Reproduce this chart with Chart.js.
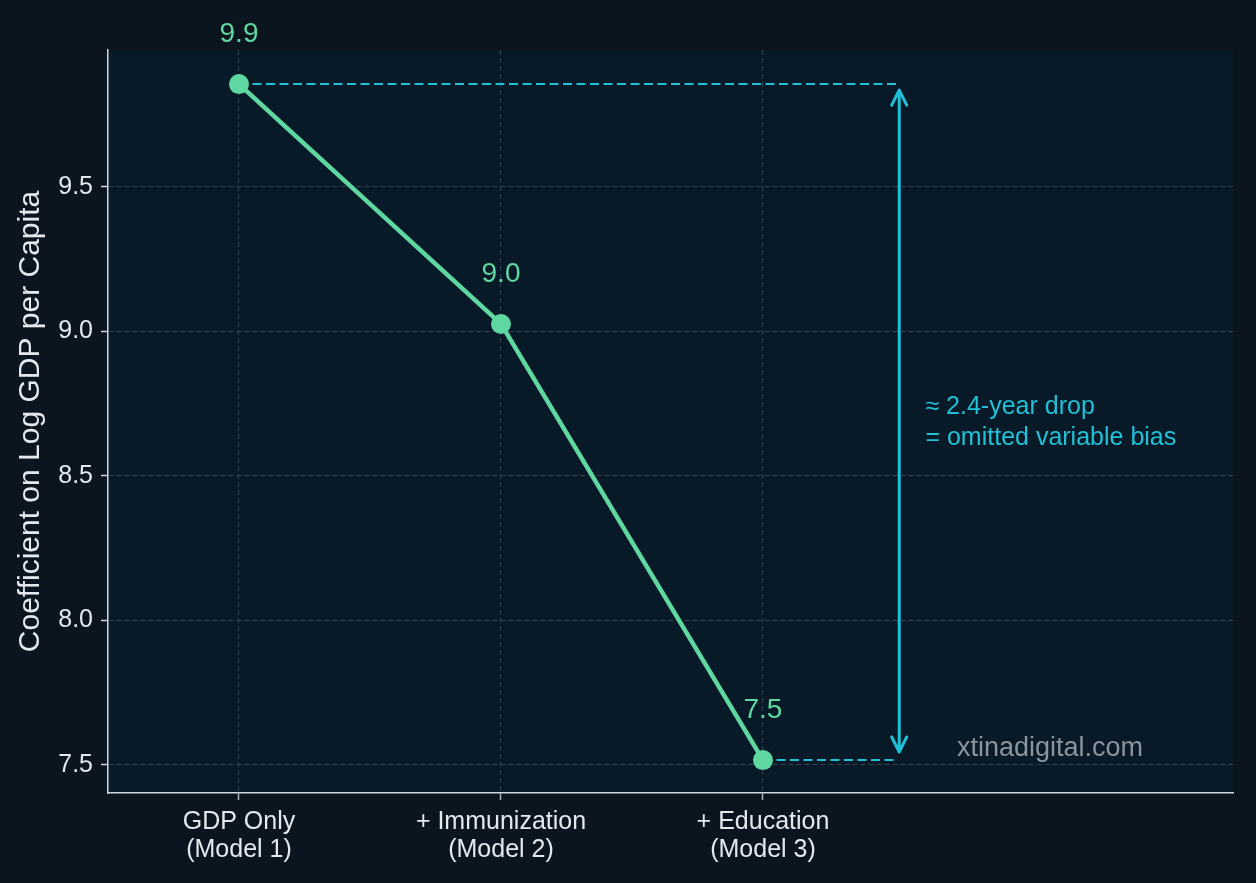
<!DOCTYPE html>
<html>
<head>
<meta charset="utf-8">
<script src="https://cdn.jsdelivr.net/npm/chart.js@4.4.1/dist/chart.umd.min.js"></script>
<style>
  html, body { margin: 0; padding: 0; background: #0b151f; }
  #wrap { width: 1256px; height: 883px; }
</style>
</head>
<body>
<div id="wrap"><canvas id="chart" width="1256" height="883"></canvas></div>
<script>
// Data
const models = [['GDP Only', '(Model 1)'], ['+ Immunization', '(Model 2)'], ['+ Education', '(Model 3)']];
const coefficients = [9.856, 9.026, 7.517];
const yTicks = [7.5, 8.0, 8.5, 9.0, 9.5];

// annotation values (data units)
const arrowX = 2.52;
const arrowTop = 9.835;
const arrowBottom = 7.545;
const noteX = 2.62;
const noteLines = ['\u2248 2.4-year drop', '= omitted variable bias'];
const noteY = [8.74, 8.63];
const watermark = 'xtinadigital.com';

const green = '#5fd7a0';
const cyan = '#20c0d6';
const fontFamily = '"Liberation Sans", Arial, Helvetica, sans-serif';

const bgPlugin = {
  id: 'bg',
  beforeDraw(chart) {
    const { ctx, chartArea: a } = chart;
    ctx.save();
    ctx.fillStyle = '#0b151f';
    ctx.fillRect(0, 0, chart.width, chart.height);
    ctx.fillStyle = '#081a28';
    ctx.fillRect(a.left, a.top, a.right - a.left, a.bottom - a.top);
    ctx.restore();
  }
};

const notesPlugin = {
  id: 'notes',
  afterDatasetsDraw(chart) {
    const { ctx } = chart;
    const x = chart.scales.x, y = chart.scales.y;
    ctx.save();

    // value labels above the points
    ctx.fillStyle = green;
    ctx.font = '28px ' + fontFamily;
    ctx.textAlign = 'center';
    ctx.textBaseline = 'middle';
    coefficients.forEach((v, i) => {
      ctx.fillText(v.toFixed(1), x.getPixelForValue(i), y.getPixelForValue(v) - 50);
    });

    // double headed arrow
    const ax = x.getPixelForValue(arrowX);
    const y1 = y.getPixelForValue(arrowTop);
    const y2 = y.getPixelForValue(arrowBottom);
    ctx.strokeStyle = cyan;
    ctx.lineWidth = 3;
    ctx.lineCap = 'round';
    ctx.lineJoin = 'round';
    ctx.beginPath();
    ctx.moveTo(ax, y1);
    ctx.lineTo(ax, y2);
    ctx.moveTo(ax - 7.5, y1 + 15);
    ctx.lineTo(ax, y1);
    ctx.lineTo(ax + 7.5, y1 + 15);
    ctx.moveTo(ax - 7.5, y2 - 15);
    ctx.lineTo(ax, y2);
    ctx.lineTo(ax + 7.5, y2 - 15);
    ctx.stroke();

    // note text
    ctx.fillStyle = cyan;
    ctx.font = '25px ' + fontFamily;
    ctx.textAlign = 'left';
    noteLines.forEach((t, i) => {
      ctx.fillText(t, x.getPixelForValue(noteX), y.getPixelForValue(noteY[i]));
    });

    // watermark
    const a = chart.chartArea;
    ctx.fillStyle = '#8a949e';
    ctx.font = '27px ' + fontFamily;
    ctx.textAlign = 'center';
    ctx.fillText(watermark, a.right - 183, a.bottom - 44);
    ctx.restore();
  }
};

const dashed = {
  borderColor: cyan,
  borderWidth: 2,
  borderDash: [9, 4.5],
  pointRadius: 0,
  pointHoverRadius: 0,
  fill: false,
  order: 2
};

new Chart(document.getElementById('chart'), {
  type: 'line',
  data: {
    datasets: [
      {
        data: coefficients.map((v, i) => ({ x: i, y: v })),
        borderColor: green,
        backgroundColor: green,
        borderWidth: 4.5,
        pointRadius: 10,
        pointBorderWidth: 0,
        pointHoverRadius: 10,
        tension: 0,
        order: 1
      },
      Object.assign({ data: [{ x: 0, y: coefficients[0] }, { x: 2.515, y: coefficients[0] }] }, dashed),
      Object.assign({ data: [{ x: 2, y: coefficients[2] }, { x: 2.515, y: coefficients[2] }] }, dashed)
    ]
  },
  options: {
    responsive: false,
    animation: false,
    events: [],
    layout: { padding: { top: 50, right: 23, left: 0, bottom: 0 } },
    plugins: {
      legend: { display: false },
      tooltip: { enabled: false }
    },
    scales: {
      x: {
        type: 'linear',
        min: -0.5,
        max: 3.794,
        afterFit: s => { s.height = 90; },
        afterBuildTicks: s => { s.ticks = models.map((m, i) => ({ value: i })); },
        ticks: {
          color: '#e2e8ee',
          font: { family: fontFamily, size: 25, lineHeight: 1.12 },
          padding: 8,
          maxRotation: 0,
          autoSkip: false,
          callback: v => models[v]
        },
        grid: {
          color: '#324250',
          lineWidth: 1,
          tickLength: 7,
          tickColor: '#a8b2bc',
          tickWidth: 1.5
        },
        border: { color: '#cfd6dd', width: 1.5, dash: [5, 3] }
      },
      y: {
        min: 7.403,
        max: 9.974,
        afterFit: s => { s.width = 108; },
        afterBuildTicks: s => { s.ticks = yTicks.map(v => ({ value: v })); },
        ticks: {
          color: '#e2e8ee',
          font: { family: fontFamily, size: 25 },
          padding: 8,
          callback: v => v.toFixed(1)
        },
        grid: {
          color: '#324250',
          lineWidth: 1,
          tickLength: 7,
          tickColor: '#cfd6dd',
          tickWidth: 1.5
        },
        border: { color: '#cfd6dd', width: 1.5, dash: [5, 3] },
        title: {
          display: true,
          text: 'Coefficient on Log GDP per Capita',
          color: '#e2e8ee',
          font: { family: fontFamily, size: 30, lineHeight: 1.2 },
          padding: { top: 13, bottom: 0 }
        }
      }
    }
  },
  plugins: [bgPlugin, notesPlugin]
});
</script>
</body>
</html>
